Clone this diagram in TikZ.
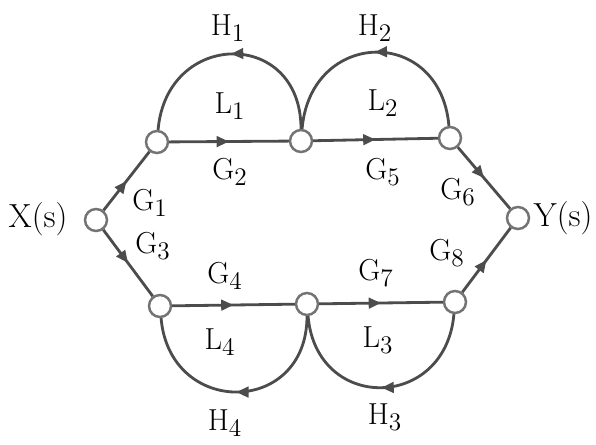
\documentclass[tikz,border=0pt]{standalone}
\usetikzlibrary{arrows.meta,decorations.markings}
\tikzset{
  sfgnode/.style={circle,draw=black!55,fill=white,line width=1.4pt,minimum size=0.44cm,inner sep=0pt},
  branch/.style={draw=black!70,line width=1.6pt,postaction={decorate},
    decoration={markings,mark=at position 0.5 with {\arrow{Triangle[length=7pt,width=6pt]}}}},
  lbl/.style={font=\fontsize{19}{22}\selectfont,inner sep=0pt}
}
\begin{document}
\begin{tikzpicture}[x=0.02cm,y=0.02cm]
\useasboundingbox (0,0) rectangle (596,444);

\node[sfgnode] (X) at (96,224) {};
\node[sfgnode] (A) at (157,302) {};
\node[sfgnode] (B) at (301,303) {};
\node[sfgnode] (C) at (450,306) {};
\node[sfgnode] (Y) at (518,226) {};
\node[sfgnode] (D) at (160,138) {};
\node[sfgnode] (E) at (307,140) {};
\node[sfgnode] (F) at (455,142) {};

\draw[branch] (X) -- (A);
\draw[branch] (A) -- (B);
\draw[branch] (B) -- (C);
\draw[branch] (C) -- (Y);
\draw[branch] (X) -- (D);
\draw[branch] (D) -- (E);
\draw[branch] (E) -- (F);
\draw[branch] (F) -- (Y);

\draw[branch] (B) to[out=90,in=85,looseness=1.8] (A);
\draw[branch] (C) to[out=95,in=85,looseness=1.75] (B);
\draw[branch] (E) to[out=-90,in=-85,looseness=1.75] (D);
\draw[branch] (F) to[out=-95,in=-85,looseness=1.7] (E);

\node[lbl] (xs) at (38,225) {X(s)};
\node[lbl] (ys) at (563,226) {Y(s)};
\node[lbl] (g1) at (150,241) {$\mathrm{G}_1$};
\node[lbl] (g2) at (230,272) {$\mathrm{G}_2$};
\node[lbl] (g5) at (383,272) {$\mathrm{G}_5$};
\node[lbl] (g6) at (458,252) {$\mathrm{G}_6$};
\node[lbl] (g3) at (153,198) {$\mathrm{G}_3$};
\node[lbl] (g4) at (225,168) {$\mathrm{G}_4$};
\node[lbl] (g7) at (376,171) {$\mathrm{G}_7$};
\node[lbl] (g8) at (447,191) {$\mathrm{G}_8$};
\node[lbl] (h1) at (228,416) {$\mathrm{H}_1$};
\node[lbl] (h2) at (375,416) {$\mathrm{H}_2$};
\node[lbl] (h3) at (385,27) {$\mathrm{H}_3$};
\node[lbl] (h4) at (225,21) {$\mathrm{H}_4$};
\node[lbl] (l1) at (230,338) {$\mathrm{L}_1$};
\node[lbl] (l2) at (383,341) {$\mathrm{L}_2$};
\node[lbl] (l3) at (378,104) {$\mathrm{L}_3$};
\node[lbl] (l4) at (220,102) {$\mathrm{L}_4$};
\end{tikzpicture}
\end{document}
